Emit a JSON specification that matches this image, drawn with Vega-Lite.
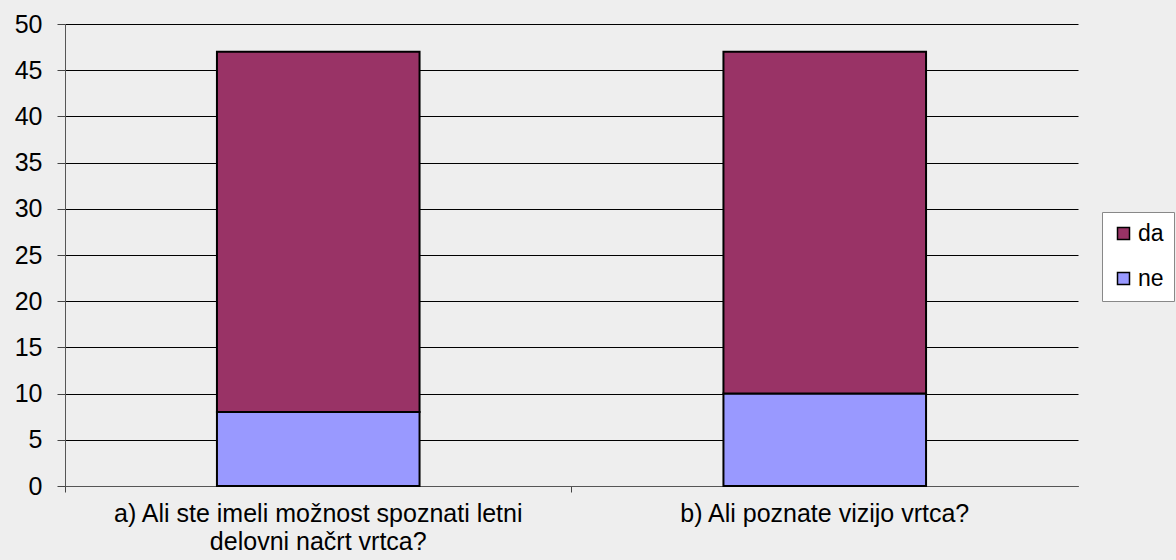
{
  "$schema": "https://vega.github.io/schema/vega-lite/v6.json",
  "width": 1013,
  "height": 462,
  "autosize": {"type": "none"},
  "padding": {"left": 65, "top": 24, "right": 98, "bottom": 74},
  "background": "#eeeeee",
  "config": {
    "view": {"stroke": null},
    "font": "Liberation Sans"
  },
  "data": {
    "values": [
      {"vprasanje": "a) Ali ste imeli možnost spoznati letni delovni načrt vrtca?", "odgovor": "ne", "stevilo": 8},
      {"vprasanje": "a) Ali ste imeli možnost spoznati letni delovni načrt vrtca?", "odgovor": "da", "stevilo": 39},
      {"vprasanje": "b) Ali poznate vizijo vrtca?", "odgovor": "ne", "stevilo": 10},
      {"vprasanje": "b) Ali poznate vizijo vrtca?", "odgovor": "da", "stevilo": 37}
    ]
  },
  "mark": {"type": "bar", "stroke": "#000000", "strokeWidth": 2},
  "encoding": {
    "x": {
      "field": "vprasanje",
      "type": "nominal",
      "sort": null,
      "scale": {"paddingInner": 0.6, "paddingOuter": 0.3},
      "axis": {
        "title": null,
        "labelAngle": 0,
        "ticks": true,
        "bandPosition": -0.75,
        "tickSize": 6,
        "tickColor": "#444444",
        "domainColor": "#555555",
        "labelFontSize": 25,
        "labelColor": "#000000",
        "labelPadding": 9,
        "labelLineHeight": 28,
        "labelBaseline": "top",
        "labelLimit": 700,
        "labelExpr": "datum.label == 'a) Ali ste imeli možnost spoznati letni delovni načrt vrtca?' ? ['a) Ali ste imeli možnost spoznati letni', 'delovni načrt vrtca?'] : datum.label"
      }
    },
    "y": {
      "field": "stevilo",
      "type": "quantitative",
      "aggregate": "sum",
      "stack": "zero",
      "scale": {"domain": [0, 50], "nice": false},
      "axis": {
        "title": null,
        "values": [0, 5, 10, 15, 20, 25, 30, 35, 40, 45, 50],
        "grid": true,
        "gridColor": "#000000",
        "gridWidth": 1,
        "gridOpacity": 1,
        "tickSize": 8,
        "tickColor": "#444444",
        "domainColor": "#555555",
        "labelFontSize": 25,
        "labelColor": "#000000",
        "labelPadding": 15
      }
    },
    "color": {
      "field": "odgovor",
      "type": "nominal",
      "scale": {"domain": ["da", "ne"], "range": ["#993366", "#9999ff"]},
      "legend": {
        "title": null,
        "orient": "none",
        "legendX": 1037,
        "legendY": 188,
        "symbolType": "square",
        "symbolSize": 144,
        "symbolStrokeColor": "#000000",
        "symbolStrokeWidth": 1.5,
        "symbolOpacity": 1,
        "labelFontSize": 23,
        "labelColor": "#000000",
        "labelOffset": 3,
        "rowPadding": 21,
        "padding": 10,
        "fillColor": "#ffffff",
        "strokeColor": "#888888"
      }
    },
    "order": {"field": "odgovor", "sort": "descending"}
  }
}
